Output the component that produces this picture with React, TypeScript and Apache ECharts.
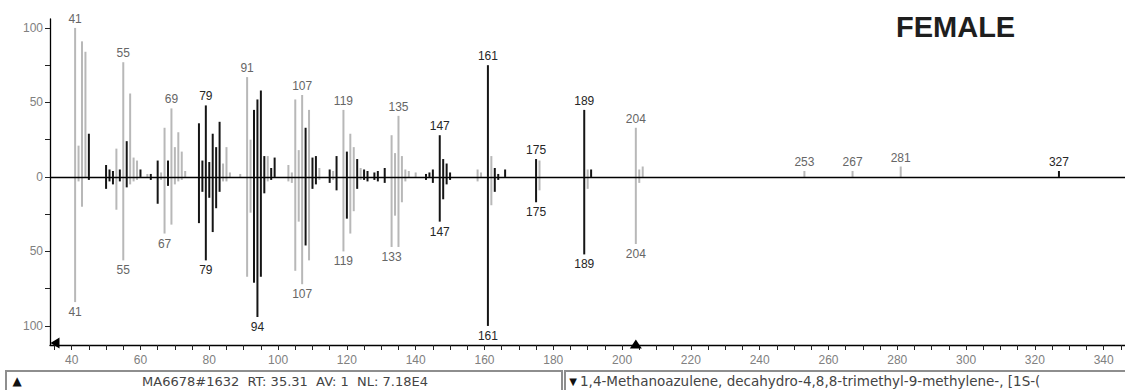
import React, { useEffect, useRef } from "react";
import * as echarts from "echarts";

// m/z values of the peaks
const mzValues = [
  41, 42, 43, 44, 45, 50, 51, 52, 53, 54, 55, 56, 57, 58, 59, 60, 62, 63, 65, 66,
  67, 68, 69, 70, 71, 72, 73, 77, 78, 79, 80, 81, 82, 83, 84, 85, 86, 89, 91, 92,
  93, 94, 95, 96, 97, 98, 99, 103, 104, 105, 106, 107, 108, 109, 110, 111, 112, 115, 116, 117,
  119, 120, 121, 122, 123, 124, 125, 126, 128, 129, 131, 133, 134, 135, 136, 137, 138, 140, 143, 144,
  145, 147, 148, 149, 150, 158, 159, 161, 162, 163, 164, 166, 175, 176, 189, 190, 191, 204, 205, 206,
  253, 267, 281, 327,
];
// sample spectrum (upper half, FEMALE)
const femaleIntensity = [
  100, 21, 91, 84, 29, 8, 5, 4, 19, 5, 77, 24, 56, 13, 11, 5, 2, 2, 11, 3,
  33, 11, 46, 20, 30, 17, 4, 36, 11, 48, 10, 29, 20, 37, 9, 20, 3, 2, 67, 25,
  45, 52, 58, 14, 14, 6, 13, 8, 3, 52, 18, 55, 33, 45, 13, 14, 6, 5, 4, 14,
  45, 17, 29, 20, 12, 6, 5, 4, 3, 4, 6, 28, 16, 41, 14, 5, 4, 3, 2, 3,
  5, 28, 12, 9, 3, 5, 3, 75, 14, 6, 2, 5, 12, 11, 45, 5, 5, 33, 5, 7,
  4, 4, 7, 4,
];
// library spectrum (lower half)
const libraryIntensity = [
  84, 3, 20, 0, 2, 8, 3, 5, 22, 3, 56, 7, 5, 3, 2, 0, 0, 2, 18, 2,
  38, 6, 32, 5, 3, 2, 0, 31, 10, 56, 14, 37, 21, 10, 3, 3, 0, 0, 67, 24,
  71, 94, 67, 11, 3, 2, 0, 3, 4, 63, 30, 72, 46, 56, 8, 5, 2, 4, 2, 9,
  50, 28, 38, 23, 8, 2, 2, 3, 2, 3, 4, 47, 26, 47, 17, 3, 0, 0, 2, 0,
  4, 30, 15, 5, 2, 3, 0, 100, 19, 10, 2, 0, 17, 9, 52, 8, 0, 45, 4, 0,
  0, 0, 0, 0,
];
// peaks that are drawn dark in the picture
const darkMz = [
  45, 50, 51, 52, 54, 56, 60, 63, 65, 68, 77, 78, 79, 80, 81, 82, 83, 93, 94, 95,
  96, 98, 99, 108, 110, 111, 115, 117, 120, 123, 125, 126, 128, 129, 131, 143, 144, 145, 147, 148,
  149, 150, 161, 163, 164, 166, 175, 189, 191, 327,
];
const femaleLabels = [41, 55, 69, 79, 91, 107, 119, 135, 147, 161, 175, 189, 204, 253, 267, 281, 327];
const libraryLabels = [41, 55, 67, 79, 94, 107, 119, 133, 147, 161, 175, 189, 204];

const xTickLabels = [40, 60, 80, 100, 120, 140, 160, 180, 200, 220, 240, 260, 280, 300, 320, 340];
const xMinorTicks = [
  35, 40, 45, 50, 55, 60, 65, 70, 75, 80, 85, 90, 95, 100, 105, 110, 115, 120, 125, 130,
  135, 140, 145, 150, 155, 160, 165, 170, 175, 180, 185, 190, 195, 200, 205, 210, 215, 220, 225, 230,
  235, 240, 245, 250, 255, 260, 265, 270, 275, 280, 285, 290, 295, 300, 305, 310, 315, 320, 325, 330,
  335, 340, 345,
];
const yTickLabels = [-100, -50, 0, 50, 100];
const yTicks = [-100, -75, -50, -25, 0, 25, 50, 75, 100];

const xMin = 33.7;
const xMax = 346.2;
const yMin = -112.8;
const yMax = 106;
const markerMz = 204;

const title = "FEMALE";
const scanInfo = "MA6678#1632  RT: 35.31  AV: 1  NL: 7.18E4";
const compoundName = "1,4-Methanoazulene, decahydro-4,8,8-trimethyl-9-methylene-, [1S-(";

export default function App() {
  const ref = useRef<HTMLDivElement>(null);

  useEffect(() => {
    if (!ref.current) return;
    const chart = echarts.init(ref.current, undefined, { renderer: "svg" });
    const darkSet = new Set(darkMz);
    const topLabelSet = new Set(femaleLabels);
    const bottomLabelSet = new Set(libraryLabels);

    const femaleData = mzValues
      .map((m, i) => [m, femaleIntensity[i]])
      .filter((d) => d[1] > 0);
    const libraryData = mzValues
      .map((m, i) => [m, -libraryIntensity[i]])
      .filter((d) => d[1] < 0);

    const makeRender = (labelSet: Set<number>) => (params: any, api: any) => {
      const mz = api.value(0);
      const v = api.value(1);
      const base = api.coord([mz, 0]);
      const end = api.coord([mz, v]);
      const dark = darkSet.has(mz);
      const children: any[] = [
        {
          type: "line",
          shape: { x1: base[0], y1: base[1], x2: end[0], y2: end[1] },
          style: { stroke: dark ? "#151515" : "#b8b8b8", lineWidth: 2 },
        },
      ];
      if (labelSet.has(mz)) {
        children.push({
          type: "text",
          x: end[0],
          y: v > 0 ? end[1] - 3 : end[1] + 4,
          style: {
            text: String(mz),
            fill: dark ? "#262626" : "#666666",
            stroke: "none",
            font: '12px "Liberation Sans", Arial, sans-serif',
            align: "center",
            verticalAlign: v > 0 ? "bottom" : "top",
          },
        });
      }
      return { type: "group", children };
    };

    chart.setOption({
      animation: false,
      backgroundColor: "#ffffff",
      color: ["#444444", "#444444"],
      title: {
        text: title,
        left: 896,
        top: 12,
        padding: 0,
        textStyle: {
          fontSize: 29,
          fontWeight: "bold",
          fontFamily: '"Liberation Sans", Arial, sans-serif',
          color: "#1e1e1e",
        },
      },
      grid: { left: 50, right: 0, top: 19, bottom: 45 },
      xAxis: {
        type: "value",
        min: xMin,
        max: xMax,
        axisLine: { onZero: false, lineStyle: { color: "#000", width: 1.3 } },
        axisTick: {
          show: true,
          customValues: xMinorTicks,
          length: 5,
          lineStyle: { color: "#222", width: 1 },
        },
        axisLabel: {
          customValues: xTickLabels,
          color: "#808080",
          fontSize: 12,
          fontFamily: '"Liberation Sans", Arial, sans-serif',
          margin: 9,
        },
        splitLine: { show: false },
      },
      yAxis: {
        type: "value",
        min: yMin,
        max: yMax,
        axisLine: { show: true, lineStyle: { color: "#000", width: 1.3 } },
        axisTick: {
          show: true,
          customValues: yTicks,
          length: 5,
          lineStyle: { color: "#222", width: 1 },
        },
        axisLabel: {
          customValues: yTickLabels,
          formatter: (v: number) => String(Math.abs(v)),
          color: "#808080",
          fontSize: 12,
          fontFamily: '"Liberation Sans", Arial, sans-serif',
          margin: 7,
        },
        splitLine: { show: false },
      },
      series: [
        {
          type: "custom",
          name: "female",
          coordinateSystem: "cartesian2d",
          encode: { x: 0, y: 1 },
          data: femaleData,
          itemStyle: { color: "#444444" },
          renderItem: makeRender(topLabelSet),
          z: 2,
          markLine: {
            silent: true,
            symbol: "none",
            label: { show: false },
            lineStyle: { color: "#000", width: 1.3, type: "solid" },
            data: [{ yAxis: 0 }],
          },
          markPoint: {
            silent: true,
            label: { show: false },
            itemStyle: { color: "#000" },
            data: [
              { coord: [markerMz, yMin], symbol: "triangle", symbolSize: [12, 9], symbolOffset: [0, -1] },
              { coord: [xMin, yMin], symbol: "triangle", symbolSize: [11, 9], symbolRotate: 90, symbolOffset: [5, -2] },
            ],
          },
        },
        {
          type: "custom",
          name: "library",
          coordinateSystem: "cartesian2d",
          encode: { x: 0, y: 1 },
          data: libraryData,
          itemStyle: { color: "#444444" },
          renderItem: makeRender(bottomLabelSet),
          z: 2,
        },
      ],
      graphic: [
        {
          type: "rect",
          shape: { x: 6, y: 371, width: 556, height: 20 },
          style: { fill: "#ffffff", stroke: "#8e8e8e", lineWidth: 2 },
        },
        {
          type: "rect",
          shape: { x: 565, y: 371, width: 575, height: 20 },
          style: { fill: "#ffffff", stroke: "#8e8e8e", lineWidth: 2 },
        },
        {
          type: "text",
          x: 17,
          y: 381,
          style: { text: "▲", fill: "#111", font: '12px "DejaVu Sans"', align: "center", verticalAlign: "middle" },
        },
        {
          type: "text",
          x: 285,
          y: 381,
          style: {
            text: scanInfo,
            fill: "#444",
            font: '13px "DejaVu Sans", sans-serif',
            align: "center",
            verticalAlign: "middle",
          },
        },
        {
          type: "text",
          x: 573,
          y: 381,
          style: { text: "▼", fill: "#111", font: '10px "DejaVu Sans"', align: "center", verticalAlign: "middle" },
        },
        {
          type: "text",
          x: 580,
          y: 381,
          style: {
            text: compoundName,
            fill: "#444",
            font: '13.5px "DejaVu Sans", sans-serif',
            align: "left",
            verticalAlign: "middle",
          },
        },
      ],
    });

    return () => chart.dispose();
  }, []);

  return (
    <div
      ref={ref}
      style={{ position: "fixed", left: 0, top: 0, width: 1125, height: 390, background: "#fff" }}
    />
  );
}
